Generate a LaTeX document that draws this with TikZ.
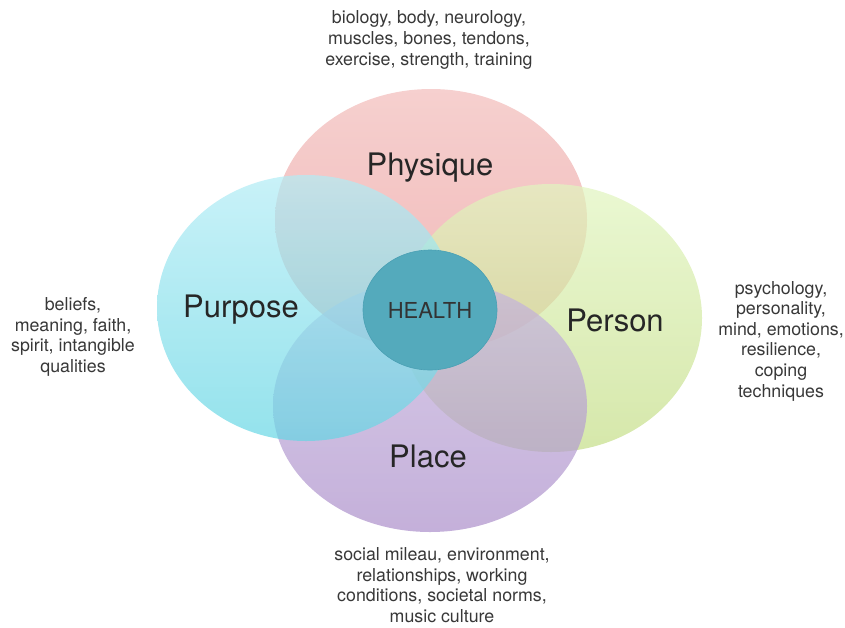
\documentclass[tikz,border=0pt]{standalone}
\usepackage{fontspec}
\setmainfont{TeX Gyre Heros}
\usetikzlibrary{shapes.geometric}

\definecolor{physTop}{RGB}{242,188,186}
\definecolor{physBot}{RGB}{234,152,152}
\definecolor{purpTop}{RGB}{178,236,245}
\definecolor{purpBot}{RGB}{102,214,228}
\definecolor{persTop}{RGB}{225,245,191}
\definecolor{persBot}{RGB}{196,221,134}
\definecolor{plceTop}{RGB}{199,182,222}
\definecolor{plceBot}{RGB}{171,142,202}
\definecolor{hlth}{RGB}{84,170,188}
\definecolor{hlthEdge}{RGB}{74,160,180}

\tikzset{
  blob/.style={ellipse, inner sep=0pt, draw=none, fill opacity=0.7},
  title/.style={font=\fontsize{31}{35}\selectfont, text=black!85},
  note/.style={align=center, inner sep=1pt, font=\fontsize{17.8}{20.6}\selectfont, text=black!78},
}

\begin{document}
\begin{tikzpicture}[x=1pt,y=-1pt]
  \useasboundingbox (0,0) rectangle (845,627);
 %
  \node[blob, minimum width=312pt, minimum height=262pt,
        top color=physTop, bottom color=physBot] (physique) at (431,220) {};
  \node[blob, minimum width=302pt, minimum height=268pt,
        top color=persTop, bottom color=persBot] (person)   at (551,318) {};
  \node[blob, minimum width=314pt, minimum height=252pt,
        top color=plceTop, bottom color=plceBot] (place)    at (430,406) {};
  \node[blob, minimum width=298pt, minimum height=266pt,
        top color=purpTop, bottom color=purpBot] (purpose)  at (306,308) {};
  \node[ellipse, inner sep=0pt, minimum width=134pt, minimum height=120pt,
        fill=hlth, draw=hlthEdge, line width=0.6pt] (health) at (430,310) {};
 %
  \node[title] (physiqueLabel) at (430,168) {Physique};
  \node[title] (purposeLabel)  at (241,310) {Purpose};
  \node[title] (personLabel)   at (615,320) {Person};
  \node[title] (placeLabel)    at (428,456) {Place};
  \node[font=\fontsize{22}{26}\selectfont, text=black!80] (healthLabel) at (430,310) {HEALTH};
 %
  \node[note] (physiqueNote) at (429, 40) {biology, body, neurology,\\muscles, bones, tendons,\\exercise, strength, training};
  \node[note] (purposeNote)  at ( 73,337) {beliefs,\\meaning, faith,\\spirit, intangible\\qualities};
  \node[note] (personNote)   at (781,341) {psychology,\\personality,\\mind, emotions,\\resilience,\\coping\\techniques};
  \node[note] (placeNote)    at (442,585) {social mileau, environment,\\relationships, working\\conditions, societal norms,\\music culture};
\end{tikzpicture}
\end{document}
